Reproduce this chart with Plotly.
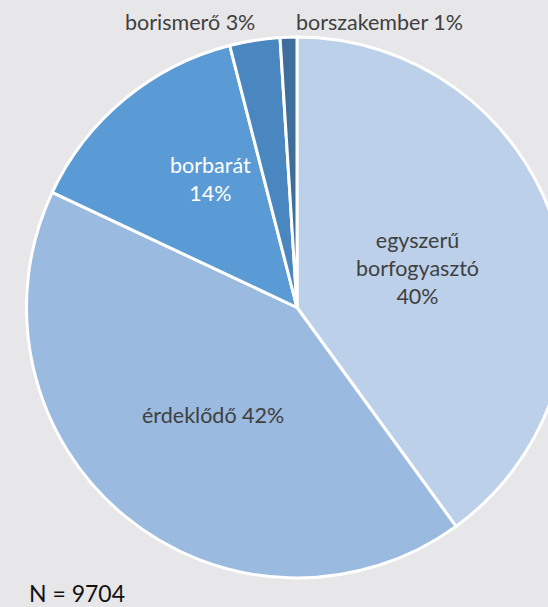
import plotly.graph_objects as go

labels = ["egyszerű borfogyasztó", "érdeklődő", "borbarát", "borismerő", "borszakember"]
values = [40, 42, 14, 3, 1]
colors = ["#bdd0ea", "#9bbadf", "#5b9bd5", "#4a86bf", "#3f6e9d"]
label_text = ["egyszerű<br>borfogyasztó<br>40%", "érdeklődő 42%", "borbarát<br>14%", "borismerő 3%", "borszakember 1%"]
label_colors = ["#404040", "#404040", "#ffffff", "#404040", "#404040"]
note = "N = 9704"

W, H = 570, 607
BG = "#e7e7e9"

fig = go.Figure(go.Pie(
    labels=labels, values=values, sort=False, direction="clockwise", rotation=0,
    marker=dict(colors=colors, line=dict(color="white", width=3)),
    textinfo="none", hoverinfo="label+percent",
    domain=dict(x=[26.5 / W, 567.5 / W], y=[1 - 578 / H, 1 - 37 / H]),
    showlegend=False,
))

pos = [(418, 268), (213, 415), (210, 179), (190, 22), (379, 22)]
for t, c, (px, py) in zip(label_text, label_colors, pos):
    fig.add_annotation(x=px / W, y=1 - py / H, xref="paper", yref="paper", text=t,
                       showarrow=False, font=dict(color=c, size=21.5, family="Lato"),
                       xanchor="center", yanchor="middle", align="center")
fig.add_annotation(x=27 / W, y=1 - 593 / H, xref="paper", yref="paper", text=note,
                   showarrow=False, font=dict(color="#111111", size=23, family="Lato"),
                   xanchor="left", yanchor="middle")

fig.update_layout(width=W, height=H, margin=dict(l=0, r=0, t=0, b=0),
                  paper_bgcolor=BG, plot_bgcolor=BG, autosize=False)

fig.write_html("out.html", post_script="document.body.style.overflow='hidden';document.documentElement.style.overflow='hidden';document.body.style.margin='0';")
